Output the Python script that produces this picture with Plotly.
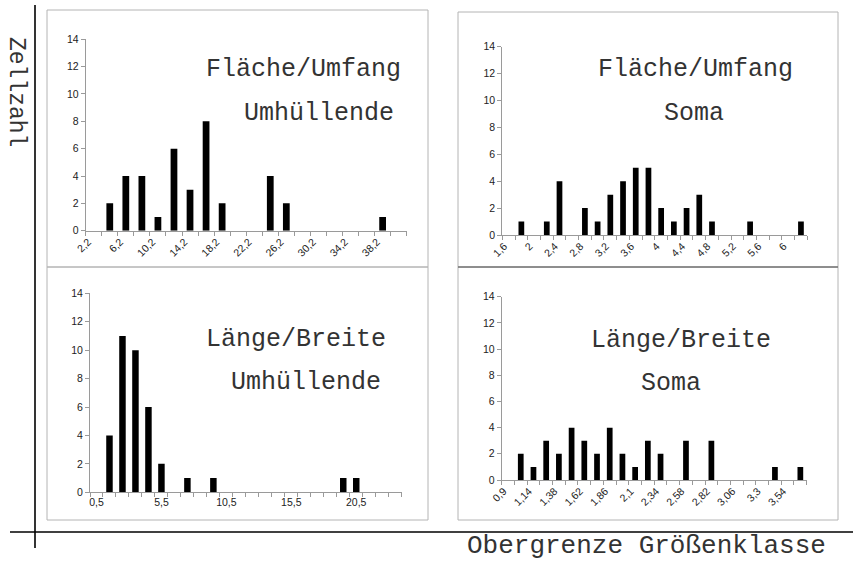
import plotly.graph_objects as go

W, H = 853, 561

# ---------------- data ----------------
# Fläche/Umfang – Umhüllende
fu_umh_classes = [2.2, 4.2, 6.2, 8.2, 10.2, 12.2, 14.2, 16.2, 18.2, 20.2,
                  22.2, 24.2, 26.2, 28.2, 30.2, 32.2, 34.2, 36.2, 38.2, 40.2]
fu_umh_counts = [0, 2, 4, 4, 1, 6, 3, 8, 2, 0, 0, 4, 2, 0, 0, 0, 0, 0, 1, 0]

# Fläche/Umfang – Soma
fu_soma_classes = [1.6, 1.8, 2.0, 2.2, 2.4, 2.6, 2.8, 3.0, 3.2, 3.4, 3.6, 3.8,
                   4.0, 4.2, 4.4, 4.6, 4.8, 5.0, 5.2, 5.4, 5.6, 5.8, 6.0, 6.2]
fu_soma_counts = [0, 1, 0, 1, 4, 0, 2, 1, 3, 4, 5, 5,
                  2, 1, 2, 3, 1, 0, 0, 1, 0, 0, 0, 1]

# Länge/Breite – Umhüllende
lb_umh_classes = [0.5, 1.5, 2.5, 3.5, 4.5, 5.5, 6.5, 7.5, 8.5, 9.5, 10.5, 11.5,
                  12.5, 13.5, 14.5, 15.5, 16.5, 17.5, 18.5, 19.5, 20.5, 21.5, 22.5, 23.5]
lb_umh_counts = [0, 4, 11, 10, 6, 2, 0, 1, 0, 1, 0, 0,
                 0, 0, 0, 0, 0, 0, 0, 1, 1, 0, 0, 0]

# Länge/Breite – Soma
lb_soma_classes = [0.9, 1.02, 1.14, 1.26, 1.38, 1.5, 1.62, 1.74, 1.86, 1.98, 2.1, 2.22,
                   2.34, 2.46, 2.58, 2.7, 2.82, 2.94, 3.06, 3.18, 3.3, 3.42, 3.54, 3.66]
lb_soma_counts = [0, 2, 1, 3, 2, 4, 3, 2, 4, 2, 1, 3,
                  2, 0, 3, 0, 3, 0, 0, 0, 0, 1, 0, 1]

y_ticks = [0, 2, 4, 6, 8, 10, 12, 14]


def fmt(v):
    s = f"{v:.2f}".rstrip("0").rstrip(".")
    return s.replace(".", ",")


# panel geometry in pixels: (x0, x1, y_bottom, y_top)
panels = [
    dict(classes=fu_umh_classes, counts=fu_umh_counts, box=(85.7, 406.7, 230.7, 39.3),
         step=2, angle=-45, width=0.42, title=("Fläche/Umfang", "Umhüllende"),
         tpos=((303, 70), (319, 113))),
    dict(classes=fu_soma_classes, counts=fu_soma_counts, box=(502.3, 807.3, 235.0, 46.7),
         step=2, angle=-45, width=0.45, title=("Fläche/Umfang", "Soma"),
         tpos=((695, 70), (694, 113))),
    dict(classes=lb_umh_classes, counts=lb_umh_counts, box=(90.0, 401.7, 492.3, 293.3),
         step=5, angle=0, width=0.5, title=("Länge/Breite", "Umhüllende"),
         tpos=((296, 339), (306, 382))),
    dict(classes=lb_soma_classes, counts=lb_soma_counts, box=(501.7, 806.7, 480.0, 296.7),
         step=2, angle=-45, width=0.45, title=("Länge/Breite", "Soma"),
         tpos=((681, 340), (671, 383))),
]

fig = go.Figure()
layout = dict(
    template="none",
    width=W, height=H, margin=dict(l=0, r=0, t=0, b=0),
    paper_bgcolor="white", plot_bgcolor="white", showlegend=False,
    font=dict(family="Liberation Sans, Arial, sans-serif", size=10.5, color="#222222"),
)

axcol = "#9a9a9a"
tickfont = dict(family="Liberation Sans, Arial, sans-serif", size=10.5, color="#222222")
annotations = []
shapes = []


def px(x):
    return x / W


def py(y):
    return 1 - y / H


for k, p in enumerate(panels):
    n = len(p["classes"])
    idx = list(range(n))
    xa = "x" if k == 0 else f"x{k+1}"
    ya = "y" if k == 0 else f"y{k+1}"
    fig.add_trace(go.Bar(x=idx, y=p["counts"], width=p["width"],
                         marker=dict(color="black", line=dict(width=0)),
                         xaxis=xa, yaxis=ya, hoverinfo="skip"))
    x0, x1, yb, yt = p["box"]
    tv = idx[::p["step"]]
    tt = [fmt(p["classes"][i]) for i in tv]
    shift = -0.35 if p["angle"] != 0 else 0.0
    xname = "xaxis" if k == 0 else f"xaxis{k+1}"
    yname = "yaxis" if k == 0 else f"yaxis{k+1}"
    layout[xname] = dict(
        domain=[px(x0), px(x1)], anchor=ya, range=[-0.5, n - 0.5],
        tickmode="array", tickvals=[v + shift for v in tv], ticktext=tt,
        tickangle=p["angle"], ticks="", showline=True, linecolor=axcol, linewidth=1,
        showgrid=False, zeroline=False, fixedrange=True, tickfont=tickfont,
        minor=dict(ticks="outside", tick0=-0.5, dtick=1, ticklen=4,
                   tickcolor=axcol, tickwidth=1, showgrid=False),
    )
    layout[yname] = dict(
        domain=[py(yb), py(yt)], anchor=xa, range=[0, 14],
        tickmode="array", tickvals=y_ticks, ticks="outside", ticklen=4,
        tickcolor=axcol, showline=True, linecolor=axcol, linewidth=1,
        showgrid=False, zeroline=False, fixedrange=True, tickfont=tickfont,
    )
    for txt, (cx, cy) in zip(p["title"], p["tpos"]):
        annotations.append(dict(
            text=txt, x=px(cx), y=py(cy), xref="paper", yref="paper",
            xanchor="center", yanchor="middle", showarrow=False,
            font=dict(family="Liberation Mono, Courier New, monospace", size=25,
                      color="#333333")))

# panel frames
frame = "#b4b4b4"
for (bx0, by0, bx1, by1, col) in [
    (47, 10, 428, 267, frame), (47, 267, 428, 520, frame),
    (458, 12, 838, 267, frame), (458, 267, 838, 520, frame),
]:
    shapes.append(dict(type="rect", xref="paper", yref="paper",
                       x0=px(bx0), x1=px(bx1), y0=py(by1), y1=py(by0),
                       line=dict(color=col, width=1)))
shapes.append(dict(type="line", xref="paper", yref="paper",
                   x0=px(458), x1=px(838), y0=py(267), y1=py(267),
                   line=dict(color="#555555", width=1)))

# outer axis cross
shapes.append(dict(type="line", xref="paper", yref="paper",
                   x0=px(35), x1=px(35), y0=py(548), y1=py(5),
                   line=dict(color="black", width=1.6)))
shapes.append(dict(type="line", xref="paper", yref="paper",
                   x0=px(10), x1=px(853), y0=py(532), y1=py(532),
                   line=dict(color="black", width=1.6)))

annotations.append(dict(text="Zellzahl", x=px(16), y=py(92), xref="paper", yref="paper",
                        xanchor="center", yanchor="middle", showarrow=False, textangle=90,
                        font=dict(family="Liberation Mono, Courier New, monospace",
                                  size=23, color="#333333")))
annotations.append(dict(text="Obergrenze Größenklasse", x=px(646), y=py(546),
                        xref="paper", yref="paper", xanchor="center", yanchor="middle",
                        showarrow=False,
                        font=dict(family="Liberation Mono, Courier New, monospace",
                                  size=26, color="#333333")))

layout["annotations"] = annotations
layout["shapes"] = shapes
fig.update_layout(**layout)
fig.write_html("out.html")
